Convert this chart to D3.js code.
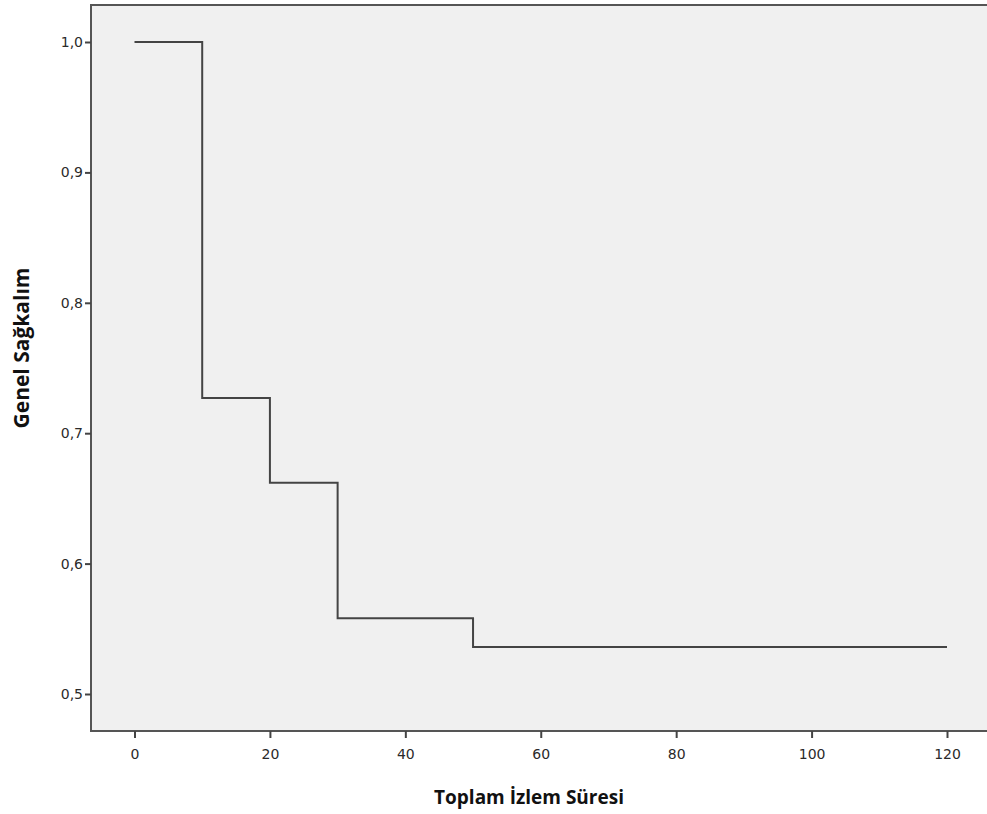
<!DOCTYPE html>
<html><head><meta charset="utf-8">
<script src="https://cdn.jsdelivr.net/npm/d3@7"></script>
<style>body{margin:0;background:#fff;overflow:hidden}</style>
</head><body>
<svg id="c" width="987" height="814"></svg>
<script>
const times = [0, 10, 20, 30, 50, 120];
const survival = [1.0, 0.727, 0.662, 0.558, 0.536, 0.536];
const xTicks = [0, 20, 40, 60, 80, 100, 120];
const yTicks = [0.5, 0.6, 0.7, 0.8, 0.9, 1.0];
const xTitle = "Toplam İzlem Süresi";
const yTitle = "Genel Sağkalım";

const svg = d3.select("#c");
const L = 91, T = 5, R = 995, B = 731;
const x = d3.scaleLinear().domain([0, 120]).range([134.5, 947]);
const y = d3.scaleLinear().domain([0.5, 1.0]).range([694, 42]);

svg.append("rect").attr("x", L).attr("y", T).attr("width", R - L).attr("height", B - T)
  .attr("fill", "#f0f0f0").attr("stroke", "#555").attr("stroke-width", 2);

const fmt = d => d3.format(".1f")(d).replace(".", ",");
const ya = svg.append("g").attr("transform", `translate(${L},0)`)
  .call(d3.axisLeft(y).tickValues(yTicks).tickFormat(fmt).tickSize(6).tickPadding(2));
const xa = svg.append("g").attr("transform", `translate(0,${B})`)
  .call(d3.axisBottom(x).tickValues(xTicks).tickSize(7).tickPadding(11));
[ya, xa].forEach(a => {
  a.select(".domain").remove();
  a.selectAll(".tick line").attr("stroke", "#444").attr("stroke-width", 2);
  a.selectAll(".tick text").attr("fill", "#2a2a2a")
    .style("font-family", "'DejaVu Sans', sans-serif").style("font-size", "14px");
});

const pts = times.map((t, i) => [x(t), y(survival[i])]);
const line = d3.line().curve(d3.curveStepAfter);
svg.append("path").attr("d", line(pts)).attr("fill", "none")
  .attr("stroke", "#444").attr("stroke-width", 2);

svg.append("text").attr("x", 529).attr("y", 804).attr("text-anchor", "middle")
  .attr("font-family", "Open Sans").attr("font-weight", "bold").attr("font-size", 19)
  .attr("fill", "#111").text(xTitle);
svg.append("text").attr("transform", "translate(29,348) rotate(-90)").attr("text-anchor", "middle")
  .attr("font-family", "Open Sans").attr("font-weight", "bold").attr("font-size", 21)
  .attr("fill", "#111").text(yTitle);
</script>
</body></html>
